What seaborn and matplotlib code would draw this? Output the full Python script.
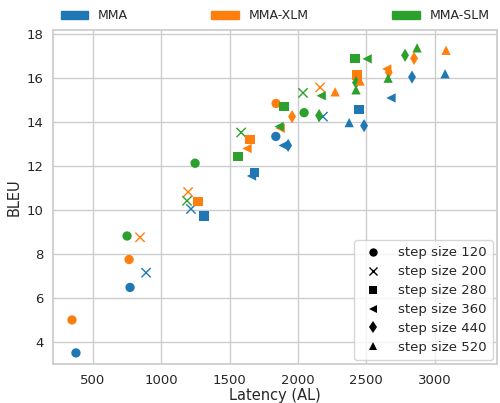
import matplotlib
matplotlib.use("Agg")
import matplotlib.pyplot as plt
import matplotlib.patches as mpatches
from matplotlib.lines import Line2D
import pandas as pd
import seaborn as sns

# models and step sizes
models = ["MMA", "MMA-XLM", "MMA-SLM"]
steps = [120, 200, 280, 360, 440, 520]
markers = ["o", "x", "s", "<", "d", "^"]

# latency (AL) and BLEU per model, per step size
mma_lat = {120: [375, 771, 1838], 200: [888, 1217, 2183], 280: [1313, 1680, 2447],
           360: [1660, 1892, 2681], 440: [1928, 2484, 2835], 520: [2375, 3077]}
mma_bleu = {120: [3.5, 6.48, 13.35], 200: [7.15, 10.05, 14.25], 280: [9.73, 11.72, 14.56],
            360: [11.55, 12.94, 15.1], 440: [12.94, 13.84, 16.05], 520: [13.98, 16.2]}

xlm_lat = {120: [346, 764, 1840], 200: [844, 1196, 2162], 280: [1268, 1649, 2433],
           360: [1627, 1870, 2650], 440: [1957, 2665, 2850], 520: [2272, 2455, 3084]}
xlm_bleu = {120: [5.0, 7.75, 14.85], 200: [8.76, 10.82, 15.58], 280: [10.38, 13.2, 16.14],
            360: [12.8, 13.72, 16.42], 440: [14.25, 16.27, 16.9], 520: [15.38, 15.87, 17.27]}

slm_lat = {120: [749, 1247, 2045], 200: [1188, 1584, 2037], 280: [1562, 1898, 2418],
           360: [1862, 2170, 2506], 440: [2155, 2425, 2784], 520: [2425, 2660, 2872]}
slm_bleu = {120: [8.82, 12.13, 14.43], 200: [10.42, 13.53, 15.33], 280: [12.44, 14.7, 16.88],
            360: [13.8, 15.2, 16.88], 440: [14.3, 15.8, 17.04], 520: [15.47, 16.0, 17.38]}

rows = []
for name, lat, bleu in [("MMA", mma_lat, mma_bleu), ("MMA-XLM", xlm_lat, xlm_bleu),
                        ("MMA-SLM", slm_lat, slm_bleu)]:
    for st in steps:
        for a, b in zip(lat[st], bleu[st]):
            rows.append({"model": name, "step": st, "AL": a, "BLEU": b})
df = pd.DataFrame(rows)

sns.set_theme(style="whitegrid")
pal = dict(zip(models, sns.color_palette("tab10", 3)))

fig, ax = plt.subplots(figsize=(5, 4.03), dpi=100)
for st, mk in zip(steps, markers):
    sub = df[df["step"] == st]
    kw = {"linewidth": 1.0} if mk == "x" else {"edgecolor": "none"}
    sns.scatterplot(data=sub, x="AL", y="BLEU", hue="model", hue_order=models,
                    palette=pal, marker=mk, s=45, legend=False, ax=ax, **kw)

ax.set_xlim(207, 3457)
ax.set_ylim(3.0, 18.2)
ax.set_xticks([500, 1000, 1500, 2000, 2500, 3000])
ax.set_yticks([4, 6, 8, 10, 12, 14, 16, 18])
ax.tick_params(labelsize=9.5, pad=1)
ax.set_xlabel("Latency (AL)", fontsize=10.5, labelpad=1)
ax.set_ylabel("BLEU", fontsize=10.5, labelpad=3)

handles = [mpatches.Patch(color=pal[m], label=m) for m in models]
leg1 = ax.legend(handles=handles, loc="lower left", bbox_to_anchor=(0, 1.0, 1, 0.1),
                 ncol=3, mode="expand", frameon=False, fontsize=9,
                 handlelength=2.2, borderaxespad=0.2)
ax.add_artist(leg1)

mh = [Line2D([], [], linestyle="none", marker=mk, color="black", markersize=6,
             markeredgewidth=1.0 if mk == "x" else 0, label=f"step size {st}")
      for st, mk in zip(steps, markers)]
ax.legend(handles=mh, loc="lower right", fontsize=9.5, frameon=True,
          handletextpad=0.9, labelspacing=0.45, borderaxespad=0.3,
          borderpad=0.45)

fig.subplots_adjust(left=0.106, right=0.994, top=0.926, bottom=0.097)
fig.savefig("out.png", dpi=100)
